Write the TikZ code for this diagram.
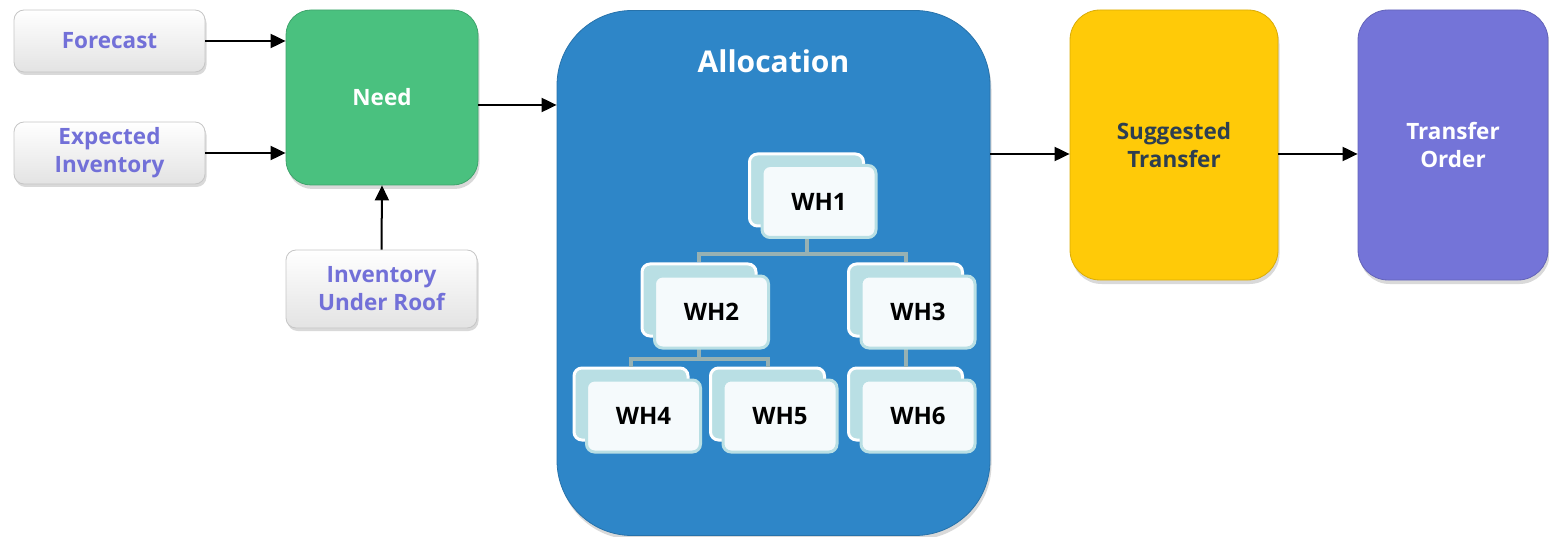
\documentclass[tikz,border=0pt]{standalone}
\usepackage{fontspec}
\setmainfont{Open Sans}
\usetikzlibrary{arrows.meta,shadows,calc}
\definecolor{txtpurple}{HTML}{7270D8}
\definecolor{needgreen}{HTML}{4AC17F}
\definecolor{allocblue}{HTML}{2E86C8}
\definecolor{sugyellow}{HTML}{FFCA08}
\definecolor{topurple}{HTML}{7474D8}
\definecolor{darktxt}{HTML}{2D3E50}
\definecolor{cardteal}{HTML}{B9DFE4}
\definecolor{cardfill}{HTML}{F5FAFC}
\definecolor{treegray}{HTML}{97B1B3}
\tikzset{
  inbox/.style={rounded corners=10pt, draw=gray!45, line width=0.8pt,
    top color=white, bottom color=gray!22, inner sep=0pt,
    drop shadow={opacity=0.3, shadow xshift=1.5pt, shadow yshift=-3pt},
    text=txtpurple, font=\bfseries\fontsize{22.5}{28}\selectfont, align=center},
  bigbox/.style={rounded corners=25pt, inner sep=0pt, line width=0.8pt,
    drop shadow={opacity=0.3, shadow xshift=1.5pt, shadow yshift=-4pt},
    font=\bfseries\fontsize{22.5}{28}\selectfont, align=center},
  backcard/.style={rounded corners=8pt, fill=cardteal, draw=white, line width=3pt,
    minimum width=114pt, minimum height=72pt, inner sep=0pt},
  frontcard/.style={rounded corners=8pt, fill=cardfill, draw=cardteal, line width=3pt,
    minimum width=114pt, minimum height=72pt, inner sep=0pt,
    font=\bfseries\fontsize{24}{28}\selectfont},
  arr/.style={-{Triangle[length=15pt,width=14pt]}, line width=2pt, black},
  tree/.style={treegray, line width=4pt}
}
\begin{document}
\begin{tikzpicture}[x=1pt,y=-1pt]
\useasboundingbox (0,0) rectangle (1549,537);
% input boxes
\node[inbox, minimum width=191pt, minimum height=62pt] (fc) at (109.5,41) {Forecast};
\node[inbox, minimum width=191pt, minimum height=62pt] (ei) at (109.5,153) {Expected\\Inventory};
\node[inbox, minimum width=191pt, minimum height=78pt] (iur) at (381.5,289) {Inventory\\Under Roof};
% main boxes
\node[bigbox, fill=needgreen, draw=needgreen!85!black, text=white,
  minimum width=192pt, minimum height=175pt] (need) at (382,97.5) {Need};
\node[bigbox, rounded corners=75pt, fill=allocblue, draw=allocblue!85!black,
  minimum width=433pt, minimum height=525pt] (alloc) at (773.5,273) {};
\node[text=white, font=\bfseries\fontsize{30}{34}\selectfont] (alloctitle) at (773.5,61) {Allocation};
\node[bigbox, rounded corners=30pt, fill=sugyellow, draw=sugyellow!85!black, text=darktxt,
  minimum width=208pt, minimum height=270pt] (sug) at (1174,145) {Suggested\\Transfer};
\node[bigbox, rounded corners=30pt, fill=topurple, draw=topurple!85!black, text=white,
  minimum width=190pt, minimum height=270pt] (to) at (1453,145) {Transfer\\Order};
% tree cards (back)
\node[backcard] (wh1b) at (806.5,190) {};
\node[backcard] (wh2b) at (699,300) {};
\node[backcard] (wh3b) at (905.5,300) {};
\node[backcard] (wh4b) at (631,404) {};
\node[backcard] (wh5b) at (767.5,404) {};
\node[backcard] (wh6b) at (905.5,404) {};
% tree connectors
\draw[tree] (wh1b.south) -- ++(0,27) coordinate (t1) -| (wh2b.north);
\draw[tree] (t1) -| (wh3b.north);
\draw[tree] (wh2b.south) -- ++(0,21) coordinate (t2) -| (wh4b.north);
\draw[tree] (t2) -| (wh5b.north);
\draw[tree] (wh3b.south) -- (wh6b.north);
% tree cards (front)
\node[frontcard] (wh1) at (819,201.5) {WH1};
\node[frontcard] (wh2) at (711.5,312) {WH2};
\node[frontcard] (wh3) at (918,312) {WH3};
\node[frontcard] (wh4) at (643.5,416) {WH4};
\node[frontcard] (wh5) at (780,416) {WH5};
\node[frontcard] (wh6) at (918,416) {WH6};
% arrows
\draw[arr] (fc.east) -- (fc.east -| need.west);
\draw[arr] (ei.east) -- (ei.east -| need.west);
\draw[arr] (iur.north) -- (need.south);
\coordinate (n1) at ([yshift=-7.5pt]need.east);
\draw[arr] (n1) -- (n1 -| alloc.west);
\coordinate (s1) at ([yshift=-9pt]sug.west);
\draw[arr] (s1 -| alloc.east) -- (s1);
\draw[arr] (s1 -| sug.east) -- (s1 -| to.west);
\end{tikzpicture}
\end{document}
